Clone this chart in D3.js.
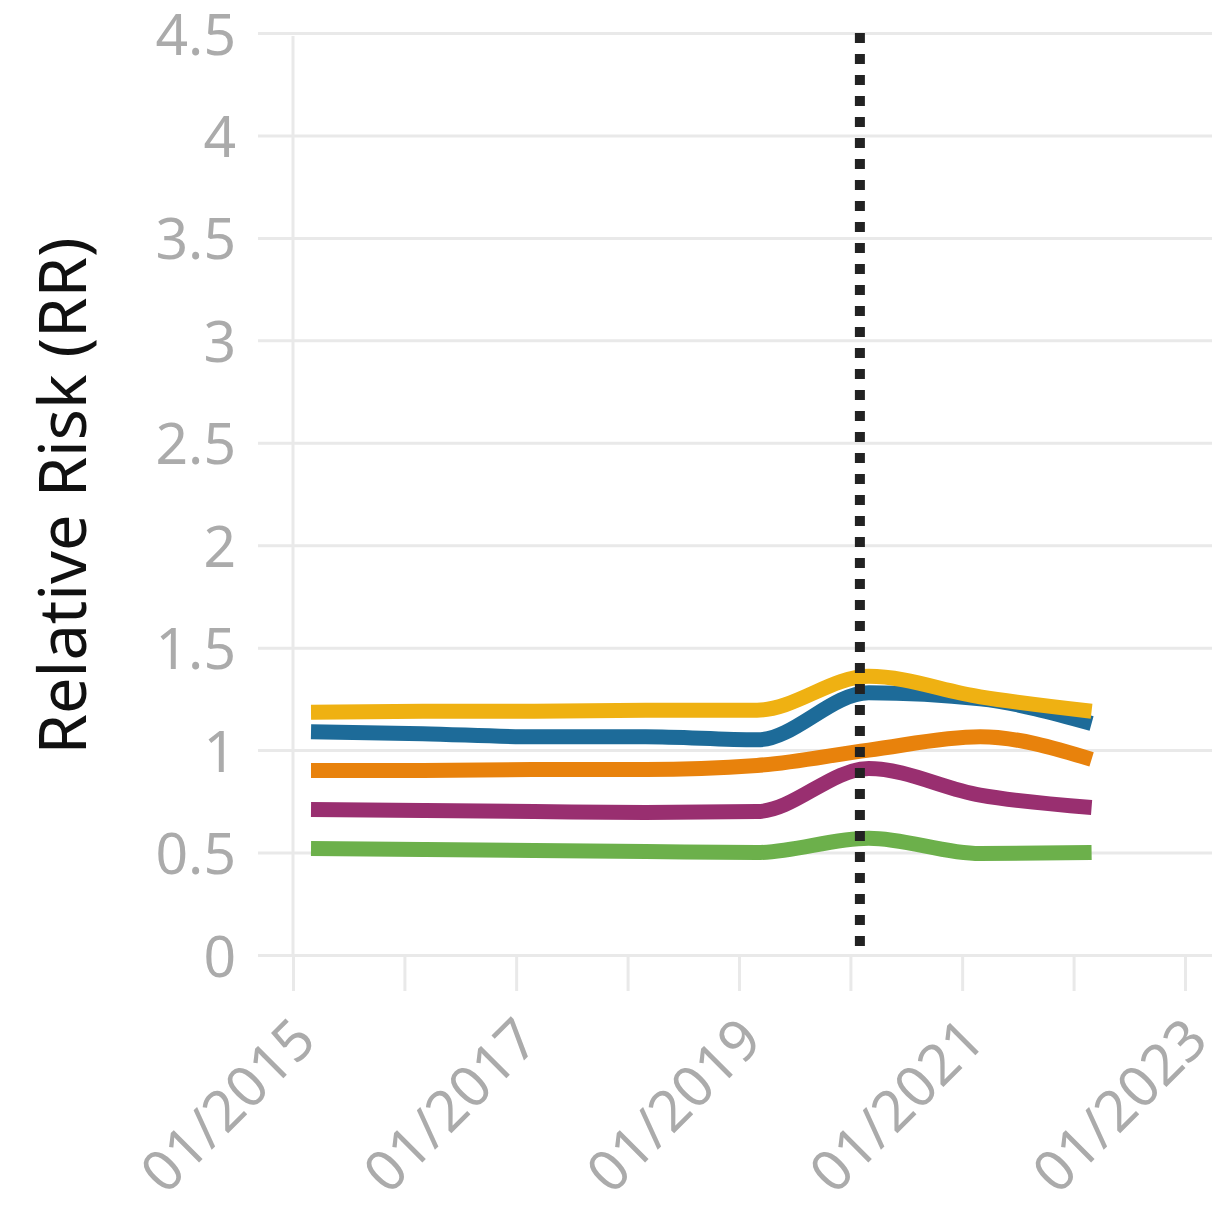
<!DOCTYPE html>
<html>
<head>
<meta charset="utf-8">
<script src="https://cdn.jsdelivr.net/npm/d3@7"></script>
<style>
  html, body { margin: 0; padding: 0; background: #fff; }
  svg { display: block; }
  text { font-family: "Noto Sans", "Open Sans", sans-serif; }
</style>
</head>
<body>
<svg id="chart" width="1212" height="1214"></svg>
<script>
// ---- data ----
const dates = ["2015-03-01","2016-03-01","2017-03-01","2018-03-01","2019-03-01","2020-03-01","2021-03-01","2022-03-01"];
const yellowValues = [1.185, 1.19, 1.19, 1.195, 1.195, 1.36, 1.26, 1.19];
const blueValues   = [1.09, 1.08, 1.065, 1.065, 1.05, 1.28, 1.25, 1.13];
const orangeValues = [0.90, 0.90, 0.905, 0.905, 0.925, 1.00, 1.065, 0.955];
const purpleValues = [0.71, 0.705, 0.70, 0.695, 0.70, 0.91, 0.78, 0.72];
const greenValues  = [0.52, 0.515, 0.51, 0.505, 0.50, 0.57, 0.495, 0.50];
const seriesNames  = ["green", "purple", "orange", "blue", "yellow"];
const seriesColors = ["#6cb04b", "#992f70", "#e8820c", "#1d6b99", "#efb112"];
const yTicks = [0, 0.5, 1, 1.5, 2, 2.5, 3, 3.5, 4, 4.5];
const xTickYears = [2015, 2016, 2017, 2018, 2019, 2020, 2021, 2022, 2023];
const xLabelYears = [2015, 2017, 2019, 2021, 2023];
const eventDate = "2020-02-01";
const yTitle = "Relative Risk (RR)";

const seriesValues = [greenValues, purpleValues, orangeValues, blueValues, yellowValues];

// ---- layout ----
const W = 1212, H = 1214;
const plotLeft = 293, plotRight = 1185, plotTop = 33, plotBottom = 955;
const gridLeft = 258;
const parse = d3.utcParse("%Y-%m-%d");

const x = d3.scaleUtc()
  .domain([Date.UTC(2015,0,1), Date.UTC(2023,0,1)])
  .range([plotLeft, plotRight]);
const y = d3.scaleLinear().domain([0, 4.5]).range([plotBottom, plotTop]);

const svg = d3.select("#chart");
const gridColor = "#e9e9e9";
const labelColor = "#ababab";

// y gridlines + labels
const yAxis = d3.axisLeft(y)
  .tickValues(yTicks)
  .tickSize(-(W - gridLeft))
  .tickPadding(22)
  .tickFormat(d => String(d));
const gy = svg.append("g").attr("transform", `translate(${gridLeft},0)`).call(yAxis);
gy.select(".domain").remove();
gy.selectAll(".tick line").attr("stroke", gridColor).attr("stroke-width", 3);
gy.selectAll(".tick text")
  .attr("fill", labelColor)
  .style("font-size", "57px")
  .attr("dy", "0.37em");

// vertical axis line
svg.append("line")
  .attr("x1", plotLeft).attr("x2", plotLeft)
  .attr("y1", y(4.5) + 3).attr("y2", plotBottom)
  .attr("stroke", gridColor).attr("stroke-width", 3);

// x axis ticks + labels
const xAxis = d3.axisBottom(x)
  .tickValues(xTickYears.map(yr => new Date(Date.UTC(yr, 0, 1))))
  .tickSize(36)
  .tickFormat(d => xLabelYears.includes(d.getUTCFullYear()) ? "01/" + d.getUTCFullYear() : "");
const gx = svg.append("g").attr("transform", `translate(0,${plotBottom})`).call(xAxis);
gx.select(".domain").remove();
gx.selectAll(".tick line").attr("stroke", gridColor).attr("stroke-width", 3);
gx.selectAll(".tick text")
  .attr("fill", labelColor)
  .style("font-size", "57px")
  .attr("text-anchor", "end")
  .attr("dy", null)
  .attr("y", null)
  .attr("transform", "translate(25,88) rotate(-45)");

// y title
svg.append("text")
  .attr("transform", `translate(86,496) rotate(-90)`)
  .attr("text-anchor", "middle")
  .attr("fill", "#111")
  .style("font-size", "65px")
  .text(yTitle);

// lines
const line = d3.line()
  .x((d, i) => x(parse(dates[i])))
  .y(d => y(d))
  .curve(d3.curveMonotoneX);

svg.append("g").selectAll("path")
  .data(seriesValues)
  .join("path")
  .attr("d", d => line(d))
  .attr("fill", "none")
  .attr("stroke", (d, i) => seriesColors[i])
  .attr("stroke-width", 15)
  .attr("stroke-linecap", "butt")
  .attr("stroke-linejoin", "round");

// event dotted line
svg.append("line")
  .attr("x1", x(parse(eventDate))).attr("x2", x(parse(eventDate)))
  .attr("y1", y(4.5)).attr("y2", y(0))
  .attr("stroke", "#222")
  .attr("stroke-width", 10)
  .attr("stroke-dasharray", "10 11");
</script>
</body>
</html>
